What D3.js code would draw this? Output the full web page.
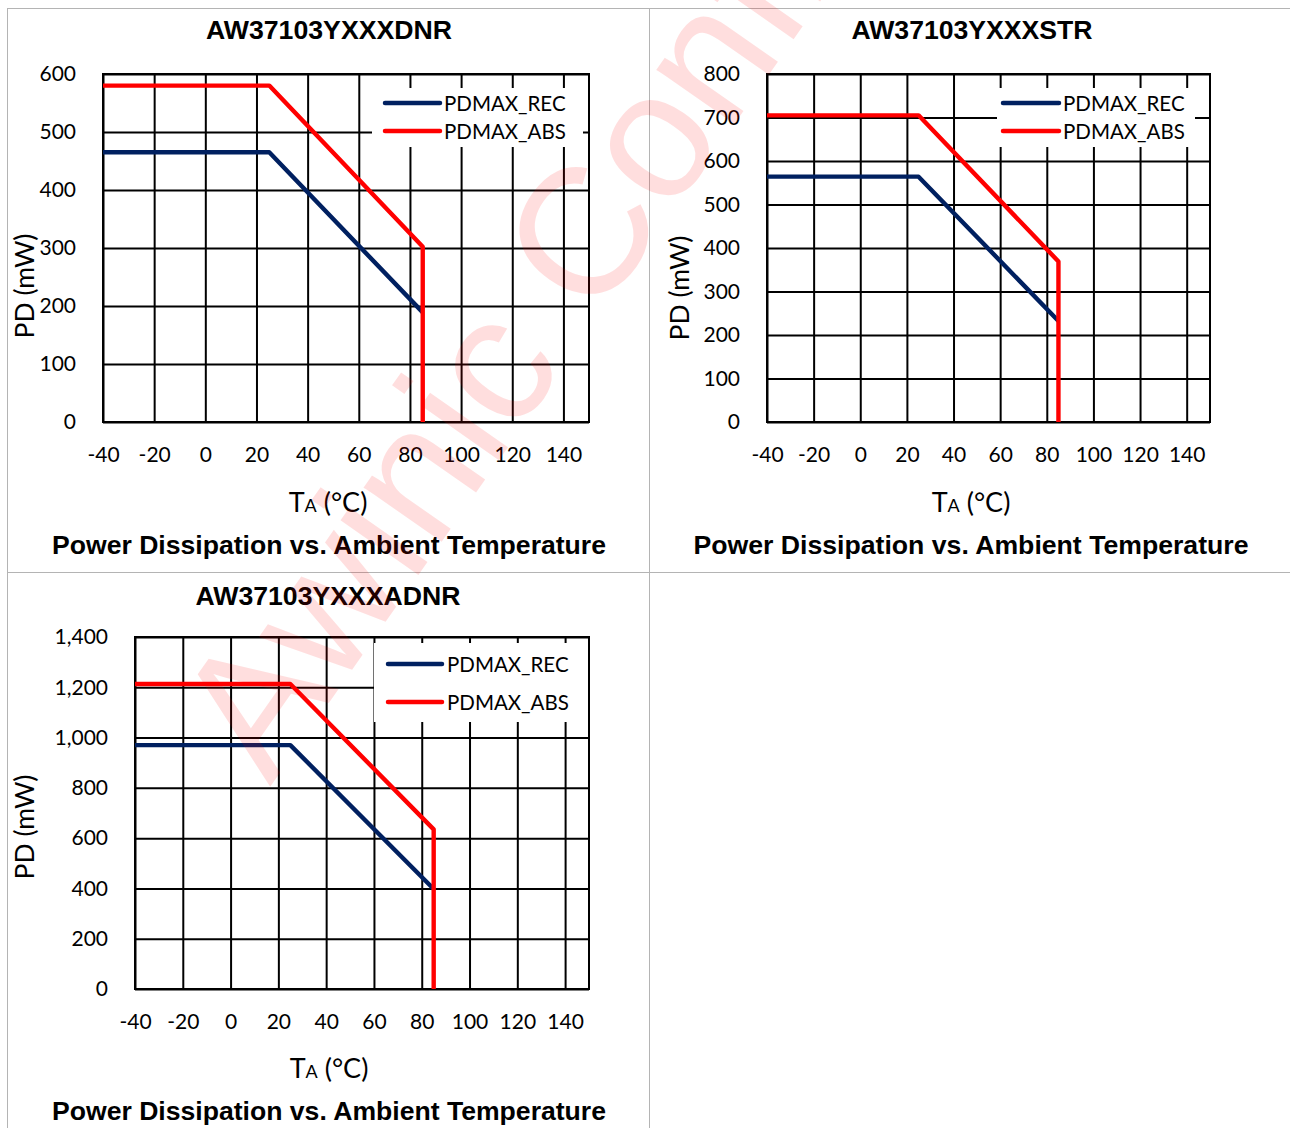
<!DOCTYPE html>
<html>
<head>
<meta charset="utf-8">
<script src="https://cdn.jsdelivr.net/npm/d3@7"></script>
<style>
  html, body { margin: 0; padding: 0; background: #fff; }
  svg { display: block; }
</style>
</head>
<body>
<svg id="chart" width="1290" height="1128"></svg>
<script>
// ---------------- DATA ----------------
const seriesNames = ["PDMAX_REC", "PDMAX_ABS"];
const seriesColors = ["#002060", "#ff0000"];
const xTicks = [-40, -20, 0, 20, 40, 60, 80, 100, 120, 140];
const xMin = -40, xMax = 150;

const chartTitles = ["AW37103YXXXDNR", "AW37103YXXXSTR", "AW37103YXXXADNR"];
const captionText = "Power Dissipation vs. Ambient Temperature";

const temps = [-40, 25, 85, 85];
const dnrRec = [465, 465, 189, null];
const dnrAbs = [580, 580, 302, 0];
const strRec = [564, 564, 232, null];
const strAbs = [705, 705, 369, 0];
const adnrRec = [970, 970, 398, null];
const adnrAbs = [1213, 1213, 635, 0];

const dnrYTicks = [0, 100, 200, 300, 400, 500, 600];
const strYTicks = [0, 100, 200, 300, 400, 500, 600, 700, 800];
const adnrYTicks = [0, 200, 400, 600, 800, 1000, 1200, 1400];

// ---------------- LAYOUT ----------------
const plainFmt = d => String(d);
const commaFmt = d => d3.format(",")(d);

const charts = [
  { title: chartTitles[0], rec: dnrRec, abs: dnrAbs, yTicks: dnrYTicks, yFmt: plainFmt,
    L: 103, R: 589, T: 74, B: 422, titleX: 329, titleY: 30, titleW: 246,
    capX: 329, capY: 545, capW: 554, yTitleX: 25, yTitleY: 286, xTitleX: 328, xTitleY: 502,
    leg: { x0: 372, y0: 88, x1: 583, y1: 147, lx0: 385, lx1: 440, ly: [103, 131], tx: 444 } },
  { title: chartTitles[1], rec: strRec, abs: strAbs, yTicks: strYTicks, yFmt: plainFmt,
    L: 767, R: 1210, T: 74, B: 422, titleX: 972, titleY: 30, titleW: 241,
    capX: 971, capY: 545, capW: 555, yTitleX: 680, yTitleY: 288, xTitleX: 971, xTitleY: 502,
    leg: { x0: 997, y0: 88, x1: 1195, y1: 147, lx0: 1003, lx1: 1059, ly: [103, 131], tx: 1063 } },
  { title: chartTitles[2], rec: adnrRec, abs: adnrAbs, yTicks: adnrYTicks, yFmt: commaFmt,
    L: 135, R: 589, T: 637, B: 989, titleX: 328, titleY: 596, titleW: 265,
    capX: 329, capY: 1111, capW: 554, yTitleX: 25, yTitleY: 827, xTitleX: 329, xTitleY: 1068,
    leg: { x0: 374, y0: 643, x1: 588, y1: 722, lx0: 388, lx1: 442, ly: [664, 702], tx: 447 } }
];

const svg = d3.select("#chart");

// table borders
const border = svg.append("g").attr("stroke", "#b4b4b4").attr("stroke-width", 1).attr("shape-rendering", "crispEdges");
border.append("line").attr("x1", 7).attr("x2", 1290).attr("y1", 8.5).attr("y2", 8.5);
border.append("line").attr("x1", 7).attr("x2", 1290).attr("y1", 572.5).attr("y2", 572.5);
border.append("line").attr("x1", 7.5).attr("x2", 7.5).attr("y1", 8).attr("y2", 1128);
border.append("line").attr("x1", 649.5).attr("x2", 649.5).attr("y1", 8).attr("y2", 1128);

const tickFont = "Lato, 'Open Sans', sans-serif";
const boldFont = "'Liberation Sans', Arial, sans-serif";

charts.forEach(c => {
  const g = svg.append("g");
  const x = d3.scaleLinear().domain([xMin, xMax]).range([c.L, c.R]);
  const yMax = c.yTicks[c.yTicks.length - 1];
  const y = d3.scaleLinear().domain([0, yMax]).range([c.B, c.T]);
  const w = c.R - c.L, h = c.B - c.T;

  // x grid + labels
  const xa = g.append("g").attr("transform", `translate(0,${c.B})`)
    .call(d3.axisBottom(x).tickValues(xTicks).tickSizeInner(-h).tickSizeOuter(0).tickPadding(25).tickFormat(plainFmt));
  // y grid + labels
  const ya = g.append("g").attr("transform", `translate(${c.L},0)`)
    .call(d3.axisLeft(y).tickValues(c.yTicks).tickSizeInner(-w).tickSizeOuter(0).tickPadding(27).tickFormat(c.yFmt));
  [xa, ya].forEach(a => {
    a.select(".domain").remove();
    a.selectAll(".tick line").attr("stroke", "#000").attr("stroke-width", 2);
    a.selectAll(".tick text").attr("font-family", tickFont).attr("font-size", 21).attr("fill", "#000");
  });
  xa.selectAll(".tick text").attr("dy", "0.71em");

  // plot border
  g.append("rect").attr("x", c.L).attr("y", c.T).attr("width", w).attr("height", h)
    .attr("fill", "none").attr("stroke", "#000").attr("stroke-width", 2);

  // legend background (covers gridlines)
  const lg = c.leg;
  g.append("rect").attr("x", lg.x0).attr("y", lg.y0).attr("width", lg.x1 - lg.x0).attr("height", lg.y1 - lg.y0)
    .attr("fill", "#fff");

  // series lines
  const line = d3.line().defined(d => d[1] !== null).x(d => x(d[0])).y(d => y(d[1]));
  const seriesData = [c.rec, c.abs];
  seriesData.forEach((vals, i) => {
    const pts = temps.map((t, k) => [t, vals[k]]);
    g.append("path").datum(pts).attr("d", line).attr("fill", "none")
      .attr("stroke", seriesColors[i]).attr("stroke-width", 4.4)
      .attr("stroke-linejoin", "round");
  });

  // legend entries
  seriesNames.forEach((name, i) => {
    g.append("line").attr("x1", lg.lx0).attr("x2", lg.lx1).attr("y1", lg.ly[i]).attr("y2", lg.ly[i])
      .attr("stroke", seriesColors[i]).attr("stroke-width", 4.5).attr("stroke-linecap", "round");
    g.append("text").attr("x", lg.tx).attr("y", lg.ly[i] + 7.5).text(name)
      .attr("font-family", tickFont).attr("font-size", 20.5).attr("fill", "#000");
  });

  // title
  g.append("text").attr("x", c.titleX).attr("y", c.titleY + 9).attr("text-anchor", "middle")
    .attr("font-family", boldFont).attr("font-weight", "bold").attr("font-size", 25)
    .attr("textLength", c.titleW).attr("lengthAdjust", "spacingAndGlyphs").text(c.title);

  // caption
  g.append("text").attr("x", c.capX).attr("y", c.capY + 9).attr("text-anchor", "middle")
    .attr("font-family", boldFont).attr("font-weight", "bold").attr("font-size", 25)
    .attr("textLength", c.capW).attr("lengthAdjust", "spacingAndGlyphs").text(captionText);

  // y title
  g.append("text").attr("transform", `translate(${c.yTitleX + 9},${c.yTitleY}) rotate(-90)`)
    .attr("text-anchor", "middle").attr("font-family", tickFont).attr("font-size", 26.5).attr("fill", "#000")
    .text("PD (mW)");

  // x title
  const xt = g.append("text").attr("x", c.xTitleX)
    .attr("y", c.xTitleY + 10).attr("text-anchor", "middle")
    .attr("font-family", tickFont).attr("font-size", 27).attr("fill", "#000");
  xt.append("tspan").text("T");
  xt.append("tspan").attr("font-size", 18).text("A");
  xt.append("tspan").text(" (°C)");
});

// watermark
svg.append("text")
  .attr("transform", "translate(270,787) rotate(-55)")
  .attr("font-family", "'Liberation Sans', Arial, sans-serif")
  .attr("font-size", 180)
  .attr("fill", "#ff0000").attr("fill-opacity", 0.13)
  .text("Awinic Confidential");
</script>
</body>
</html>
